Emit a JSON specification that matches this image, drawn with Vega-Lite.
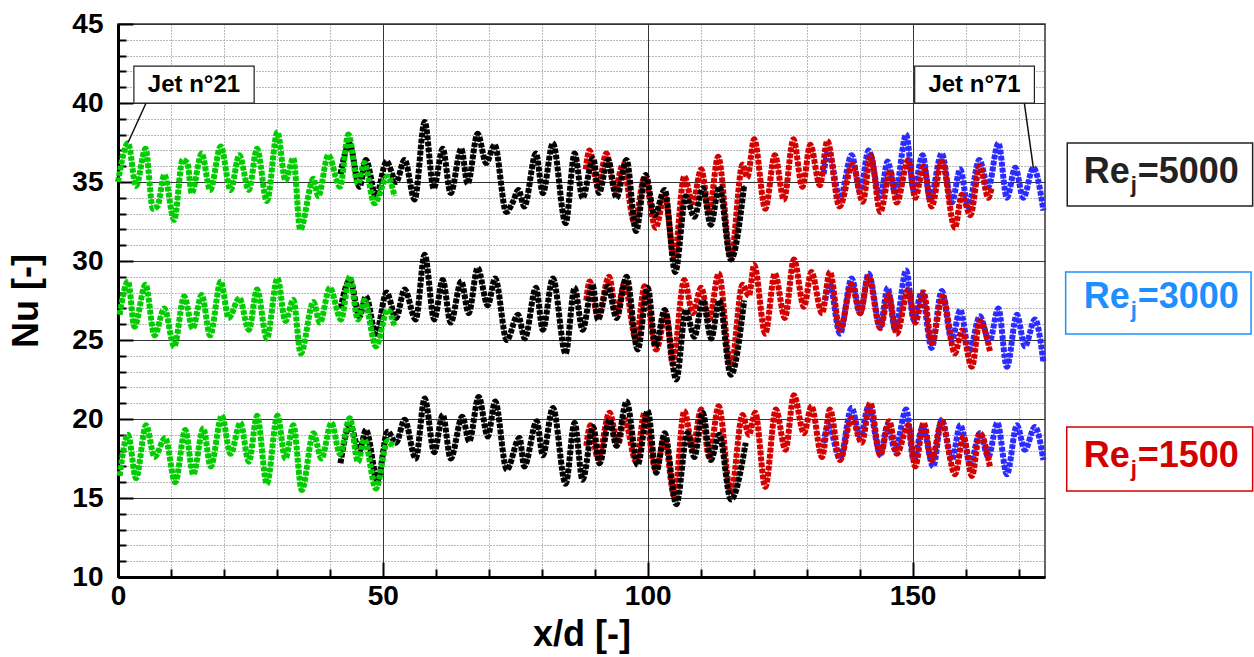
{
  "$schema": "https://vega.github.io/schema/vega-lite/v6.json",
  "width": 927,
  "height": 553,
  "autosize": {"type": "none"},
  "padding": {"left": 118, "top": 24, "right": 209, "bottom": 80},
  "background": "white",
  "config": {
    "font": "Liberation Sans",
    "view": {"stroke": "#333333", "strokeWidth": 1.5}
  },
  "datasets": {
    "curves": [
      {"s":"green","g":"5000","x":0,"y":35.0},{"s":"green","g":"5000","x":1.9,"y":37.45},{"s":"green","g":"5000","x":3.4,"y":34.75},{"s":"green","g":"5000","x":5.2,"y":37.1},{"s":"green","g":"5000","x":6.6,"y":33.3},{"s":"green","g":"5000","x":7.5,"y":33.5},{"s":"green","g":"5000","x":8.75,"y":35.45},{"s":"green","g":"5000","x":10.6,"y":32.6},{"s":"green","g":"5000","x":12.2,"y":36.4},{"s":"green","g":"5000","x":13.1,"y":36.2},{"s":"green","g":"5000","x":13.9,"y":34.3},{"s":"green","g":"5000","x":15.8,"y":36.8},{"s":"green","g":"5000","x":17.4,"y":34.5},{"s":"green","g":"5000","x":19.4,"y":37.25},{"s":"green","g":"5000","x":21.25,"y":34.5},{"s":"green","g":"5000","x":22.9,"y":36.7},{"s":"green","g":"5000","x":24.7,"y":34.5},{"s":"green","g":"5000","x":26.25,"y":37.1},{"s":"green","g":"5000","x":28.1,"y":33.8},{"s":"green","g":"5000","x":30.1,"y":38.15},{"s":"green","g":"5000","x":31.6,"y":35.1},{"s":"green","g":"5000","x":33.1,"y":36.5},{"s":"green","g":"5000","x":34.4,"y":32.0},{"s":"green","g":"5000","x":36.9,"y":35.2},{"s":"green","g":"5000","x":37.8,"y":34.1},{"s":"green","g":"5000","x":39.7,"y":36.7},{"s":"green","g":"5000","x":41.9,"y":34.7},{"s":"green","g":"5000","x":43.5,"y":38.0},{"s":"green","g":"5000","x":45.3,"y":34.9},{"s":"green","g":"5000","x":46.5,"y":36.2},{"s":"green","g":"5000","x":48.4,"y":33.65},{"s":"green","g":"5000","x":50.9,"y":35.35},{"s":"green","g":"5000","x":52.2,"y":34.1},
      {"s":"black","g":"5000","x":42.0,"y":35.5},{"s":"black","g":"5000","x":43.7,"y":37.4},{"s":"black","g":"5000","x":45.6,"y":34.7},{"s":"black","g":"5000","x":46.8,"y":36.4},{"s":"black","g":"5000","x":48.7,"y":34.1},{"s":"black","g":"5000","x":50.7,"y":36.3},{"s":"black","g":"5000","x":52.5,"y":35.0},{"s":"black","g":"5000","x":54.1,"y":36.4},{"s":"black","g":"5000","x":56.0,"y":33.9},{"s":"black","g":"5000","x":57.9,"y":38.8},{"s":"black","g":"5000","x":59.6,"y":34.6},{"s":"black","g":"5000","x":61.3,"y":37.1},{"s":"black","g":"5000","x":62.8,"y":34.3},{"s":"black","g":"5000","x":64.8,"y":37.1},{"s":"black","g":"5000","x":66.0,"y":34.9},{"s":"black","g":"5000","x":67.9,"y":38.05},{"s":"black","g":"5000","x":69.5,"y":36.2},{"s":"black","g":"5000","x":71.1,"y":37.35},{"s":"black","g":"5000","x":73.3,"y":33.1},{"s":"black","g":"5000","x":74.5,"y":33.7},{"s":"black","g":"5000","x":75.6,"y":34.5},{"s":"black","g":"5000","x":76.7,"y":33.45},{"s":"black","g":"5000","x":78.9,"y":36.8},{"s":"black","g":"5000","x":80.2,"y":34.3},{"s":"black","g":"5000","x":82.1,"y":37.45},{"s":"black","g":"5000","x":84.5,"y":32.4},{"s":"black","g":"5000","x":86.2,"y":36.8},{"s":"black","g":"5000","x":87.7,"y":34.0},{"s":"black","g":"5000","x":89.7,"y":36.5},{"s":"black","g":"5000","x":90.8,"y":34.3},{"s":"black","g":"5000","x":92.5,"y":36.4},{"s":"black","g":"5000","x":94.1,"y":34.0},{"s":"black","g":"5000","x":96.0,"y":36.4},{"s":"black","g":"5000","x":97.8,"y":31.9},{"s":"black","g":"5000","x":99.6,"y":35.45},{"s":"black","g":"5000","x":101.3,"y":32.9},{"s":"black","g":"5000","x":103.2,"y":34.5},{"s":"black","g":"5000","x":105.2,"y":29.3},{"s":"black","g":"5000","x":107.2,"y":34.1},{"s":"black","g":"5000","x":108.8,"y":32.8},{"s":"black","g":"5000","x":110.4,"y":34.6},{"s":"black","g":"5000","x":111.9,"y":32.3},{"s":"black","g":"5000","x":113.5,"y":34.7},{"s":"black","g":"5000","x":115.7,"y":30.1},{"s":"black","g":"5000","x":118.2,"y":34.8},
      {"s":"red","g":"5000","x":88.3,"y":35.8},{"s":"red","g":"5000","x":89.0,"y":37.0},{"s":"red","g":"5000","x":90.6,"y":34.7},{"s":"red","g":"5000","x":92.2,"y":36.8},{"s":"red","g":"5000","x":93.8,"y":34.5},{"s":"red","g":"5000","x":95.3,"y":36.1},{"s":"red","g":"5000","x":97.5,"y":32.4},{"s":"red","g":"5000","x":99.4,"y":35.3},{"s":"red","g":"5000","x":101.5,"y":32.1},{"s":"red","g":"5000","x":103.2,"y":34.1},{"s":"red","g":"5000","x":105.0,"y":30.3},{"s":"red","g":"5000","x":106.9,"y":35.35},{"s":"red","g":"5000","x":108.5,"y":33.7},{"s":"red","g":"5000","x":110.1,"y":35.8},{"s":"red","g":"5000","x":111.6,"y":33.2},{"s":"red","g":"5000","x":113.3,"y":36.6},{"s":"red","g":"5000","x":115.7,"y":30.3},{"s":"red","g":"5000","x":117.9,"y":36.1},{"s":"red","g":"5000","x":118.8,"y":35.3},{"s":"red","g":"5000","x":120.1,"y":37.7},{"s":"red","g":"5000","x":122.2,"y":33.3},{"s":"red","g":"5000","x":124.0,"y":36.7},{"s":"red","g":"5000","x":125.7,"y":33.9},{"s":"red","g":"5000","x":127.5,"y":37.7},{"s":"red","g":"5000","x":129.2,"y":34.7},{"s":"red","g":"5000","x":130.7,"y":37.35},{"s":"red","g":"5000","x":132.5,"y":34.8},{"s":"red","g":"5000","x":133.9,"y":37.6},{"s":"red","g":"5000","x":136.2,"y":33.45},{"s":"red","g":"5000","x":138.7,"y":36.1},{"s":"red","g":"5000","x":140.6,"y":33.75},{"s":"red","g":"5000","x":142.1,"y":36.7},{"s":"red","g":"5000","x":143.9,"y":33.1},{"s":"red","g":"5000","x":145.8,"y":35.7},{"s":"red","g":"5000","x":147.0,"y":33.7},{"s":"red","g":"5000","x":149.2,"y":36.4},{"s":"red","g":"5000","x":150.5,"y":34.0},{"s":"red","g":"5000","x":152.1,"y":36.0},{"s":"red","g":"5000","x":153.6,"y":33.45},{"s":"red","g":"5000","x":155.5,"y":36.3},{"s":"red","g":"5000","x":158.0,"y":32.1},{"s":"red","g":"5000","x":159.3,"y":34.2},{"s":"red","g":"5000","x":160.9,"y":32.9},{"s":"red","g":"5000","x":162.7,"y":36.0},{"s":"red","g":"5000","x":164.3,"y":34.0},{"s":"red","g":"5000","x":164.9,"y":34.6},
      {"s":"blue","g":"5000","x":133.2,"y":35.5},{"s":"blue","g":"5000","x":134.1,"y":36.9},{"s":"blue","g":"5000","x":136.3,"y":34.0},{"s":"blue","g":"5000","x":138.5,"y":36.7},{"s":"blue","g":"5000","x":140.1,"y":34.4},{"s":"blue","g":"5000","x":141.7,"y":37.0},{"s":"blue","g":"5000","x":143.9,"y":34.1},{"s":"blue","g":"5000","x":145.3,"y":36.3},{"s":"blue","g":"5000","x":146.7,"y":34.3},{"s":"blue","g":"5000","x":148.8,"y":38.0},{"s":"blue","g":"5000","x":150.2,"y":34.5},{"s":"blue","g":"5000","x":151.9,"y":36.7},{"s":"blue","g":"5000","x":153.3,"y":33.9},{"s":"blue","g":"5000","x":155.5,"y":36.8},{"s":"blue","g":"5000","x":157.4,"y":33.7},{"s":"blue","g":"5000","x":159.0,"y":35.8},{"s":"blue","g":"5000","x":160.5,"y":33.45},{"s":"blue","g":"5000","x":162.6,"y":36.4},{"s":"blue","g":"5000","x":164.3,"y":34.7},{"s":"blue","g":"5000","x":166.2,"y":37.45},{"s":"blue","g":"5000","x":167.8,"y":34.0},{"s":"blue","g":"5000","x":169.4,"y":35.9},{"s":"blue","g":"5000","x":170.9,"y":34.0},{"s":"blue","g":"5000","x":172.8,"y":35.9},{"s":"blue","g":"5000","x":174.7,"y":33.2},
      {"s":"green","g":"3000","x":0.3,"y":26.6},{"s":"green","g":"3000","x":1.9,"y":28.7},{"s":"green","g":"3000","x":3.1,"y":25.85},{"s":"green","g":"3000","x":5.2,"y":28.5},{"s":"green","g":"3000","x":6.9,"y":25.3},{"s":"green","g":"3000","x":8.75,"y":27.0},{"s":"green","g":"3000","x":10.6,"y":24.6},{"s":"green","g":"3000","x":12.5,"y":27.75},{"s":"green","g":"3000","x":14.1,"y":25.75},{"s":"green","g":"3000","x":15.8,"y":27.85},{"s":"green","g":"3000","x":17.4,"y":25.3},{"s":"green","g":"3000","x":19.4,"y":28.7},{"s":"green","g":"3000","x":20.9,"y":26.4},{"s":"green","g":"3000","x":22.9,"y":27.65},{"s":"green","g":"3000","x":24.7,"y":25.65},{"s":"green","g":"3000","x":26.25,"y":28.2},{"s":"green","g":"3000","x":28.1,"y":25.1},{"s":"green","g":"3000","x":30.1,"y":28.9},{"s":"green","g":"3000","x":31.6,"y":26.2},{"s":"green","g":"3000","x":33.1,"y":27.55},{"s":"green","g":"3000","x":34.5,"y":24.15},{"s":"green","g":"3000","x":36.9,"y":27.4},{"s":"green","g":"3000","x":38.1,"y":26.1},{"s":"green","g":"3000","x":40.0,"y":28.3},{"s":"green","g":"3000","x":42.1,"y":26.3},{"s":"green","g":"3000","x":43.75,"y":29.0},{"s":"green","g":"3000","x":45.3,"y":26.3},{"s":"green","g":"3000","x":46.5,"y":27.5},{"s":"green","g":"3000","x":48.7,"y":24.6},{"s":"green","g":"3000","x":50.9,"y":26.9},{"s":"green","g":"3000","x":52.2,"y":25.85},
      {"s":"black","g":"3000","x":42.0,"y":27.0},{"s":"black","g":"3000","x":43.8,"y":28.8},{"s":"black","g":"3000","x":45.6,"y":26.5},{"s":"black","g":"3000","x":46.8,"y":27.75},{"s":"black","g":"3000","x":48.7,"y":25.4},{"s":"black","g":"3000","x":50.7,"y":28.0},{"s":"black","g":"3000","x":52.5,"y":26.4},{"s":"black","g":"3000","x":54.1,"y":28.2},{"s":"black","g":"3000","x":56.2,"y":26.3},{"s":"black","g":"3000","x":57.9,"y":30.4},{"s":"black","g":"3000","x":59.7,"y":26.3},{"s":"black","g":"3000","x":61.3,"y":28.8},{"s":"black","g":"3000","x":62.8,"y":26.1},{"s":"black","g":"3000","x":64.8,"y":28.7},{"s":"black","g":"3000","x":66.2,"y":26.7},{"s":"black","g":"3000","x":67.9,"y":29.55},{"s":"black","g":"3000","x":69.8,"y":27.2},{"s":"black","g":"3000","x":71.2,"y":28.9},{"s":"black","g":"3000","x":73.4,"y":25.0},{"s":"black","g":"3000","x":75.5,"y":26.6},{"s":"black","g":"3000","x":76.8,"y":25.1},{"s":"black","g":"3000","x":78.9,"y":28.3},{"s":"black","g":"3000","x":80.2,"y":25.65},{"s":"black","g":"3000","x":82.1,"y":28.9},{"s":"black","g":"3000","x":84.5,"y":24.15},{"s":"black","g":"3000","x":86.2,"y":28.3},{"s":"black","g":"3000","x":87.7,"y":25.65},{"s":"black","g":"3000","x":89.6,"y":28.5},{"s":"black","g":"3000","x":90.6,"y":26.3},{"s":"black","g":"3000","x":92.5,"y":28.4},{"s":"black","g":"3000","x":94.1,"y":26.4},{"s":"black","g":"3000","x":96.0,"y":29.0},{"s":"black","g":"3000","x":98.1,"y":24.4},{"s":"black","g":"3000","x":100.0,"y":28.3},{"s":"black","g":"3000","x":101.5,"y":24.6},{"s":"black","g":"3000","x":103.2,"y":26.9},{"s":"black","g":"3000","x":105.4,"y":22.5},{"s":"black","g":"3000","x":107.2,"y":26.9},{"s":"black","g":"3000","x":108.8,"y":25.2},{"s":"black","g":"3000","x":110.4,"y":27.5},{"s":"black","g":"3000","x":112.0,"y":25.1},{"s":"black","g":"3000","x":113.5,"y":27.5},{"s":"black","g":"3000","x":115.7,"y":22.8},{"s":"black","g":"3000","x":118.2,"y":27.5},
      {"s":"red","g":"3000","x":88.4,"y":27.5},{"s":"red","g":"3000","x":89.05,"y":28.7},{"s":"red","g":"3000","x":90.6,"y":26.5},{"s":"red","g":"3000","x":92.7,"y":29.0},{"s":"red","g":"3000","x":94.1,"y":26.7},{"s":"red","g":"3000","x":95.6,"y":28.6},{"s":"red","g":"3000","x":97.8,"y":25.0},{"s":"red","g":"3000","x":99.4,"y":28.4},{"s":"red","g":"3000","x":101.6,"y":24.4},{"s":"red","g":"3000","x":103.5,"y":26.7},{"s":"red","g":"3000","x":104.7,"y":23.5},{"s":"red","g":"3000","x":106.9,"y":28.8},{"s":"red","g":"3000","x":108.5,"y":26.7},{"s":"red","g":"3000","x":110.1,"y":28.3},{"s":"red","g":"3000","x":111.6,"y":26.3},{"s":"red","g":"3000","x":113.4,"y":29.2},{"s":"red","g":"3000","x":115.7,"y":23.3},{"s":"red","g":"3000","x":117.9,"y":28.5},{"s":"red","g":"3000","x":119.1,"y":27.8},{"s":"red","g":"3000","x":120.1,"y":29.75},{"s":"red","g":"3000","x":122.2,"y":25.4},{"s":"red","g":"3000","x":124.0,"y":29.2},{"s":"red","g":"3000","x":125.9,"y":26.4},{"s":"red","g":"3000","x":127.6,"y":30.1},{"s":"red","g":"3000","x":129.5,"y":27.1},{"s":"red","g":"3000","x":130.9,"y":29.3},{"s":"red","g":"3000","x":132.9,"y":26.7},{"s":"red","g":"3000","x":134.4,"y":29.3},{"s":"red","g":"3000","x":136.3,"y":25.65},{"s":"red","g":"3000","x":138.5,"y":28.5},{"s":"red","g":"3000","x":140.1,"y":26.7},{"s":"red","g":"3000","x":141.7,"y":29.0},{"s":"red","g":"3000","x":143.9,"y":25.75},{"s":"red","g":"3000","x":145.5,"y":27.85},{"s":"red","g":"3000","x":147.0,"y":25.4},{"s":"red","g":"3000","x":149.2,"y":28.2},{"s":"red","g":"3000","x":150.5,"y":26.1},{"s":"red","g":"3000","x":152.1,"y":28.0},{"s":"red","g":"3000","x":153.6,"y":24.8},{"s":"red","g":"3000","x":155.7,"y":27.75},{"s":"red","g":"3000","x":158.0,"y":24.15},{"s":"red","g":"3000","x":159.3,"y":25.6},{"s":"red","g":"3000","x":161.2,"y":23.3},{"s":"red","g":"3000","x":162.7,"y":26.2},{"s":"red","g":"3000","x":164.6,"y":24.3},
      {"s":"blue","g":"3000","x":133.5,"y":27.5},{"s":"blue","g":"3000","x":134.3,"y":28.6},{"s":"blue","g":"3000","x":136.3,"y":25.4},{"s":"blue","g":"3000","x":138.5,"y":28.9},{"s":"blue","g":"3000","x":140.1,"y":26.7},{"s":"blue","g":"3000","x":141.7,"y":29.2},{"s":"blue","g":"3000","x":143.9,"y":25.85},{"s":"blue","g":"3000","x":145.3,"y":28.3},{"s":"blue","g":"3000","x":146.7,"y":25.65},{"s":"blue","g":"3000","x":148.8,"y":29.4},{"s":"blue","g":"3000","x":150.2,"y":26.3},{"s":"blue","g":"3000","x":151.7,"y":28.0},{"s":"blue","g":"3000","x":153.6,"y":24.5},{"s":"blue","g":"3000","x":155.5,"y":28.1},{"s":"blue","g":"3000","x":157.4,"y":25.0},{"s":"blue","g":"3000","x":159.0,"y":26.9},{"s":"blue","g":"3000","x":160.7,"y":24.3},{"s":"blue","g":"3000","x":162.7,"y":26.5},{"s":"blue","g":"3000","x":164.5,"y":24.9},{"s":"blue","g":"3000","x":166.2,"y":27.0},{"s":"blue","g":"3000","x":167.8,"y":23.3},{"s":"blue","g":"3000","x":169.7,"y":26.6},{"s":"blue","g":"3000","x":171.2,"y":24.6},{"s":"blue","g":"3000","x":173.1,"y":26.3},{"s":"blue","g":"3000","x":174.7,"y":23.6},
      {"s":"green","g":"1500","x":0.3,"y":16.4},{"s":"green","g":"1500","x":1.9,"y":19.0},{"s":"green","g":"1500","x":3.4,"y":16.25},{"s":"green","g":"1500","x":5.3,"y":19.6},{"s":"green","g":"1500","x":6.9,"y":17.6},{"s":"green","g":"1500","x":8.9,"y":18.8},{"s":"green","g":"1500","x":10.8,"y":16.0},{"s":"green","g":"1500","x":12.7,"y":19.3},{"s":"green","g":"1500","x":14.2,"y":16.5},{"s":"green","g":"1500","x":16.1,"y":19.4},{"s":"green","g":"1500","x":17.5,"y":17.0},{"s":"green","g":"1500","x":19.6,"y":20.2},{"s":"green","g":"1500","x":21.25,"y":17.8},{"s":"green","g":"1500","x":23.1,"y":19.75},{"s":"green","g":"1500","x":24.7,"y":17.3},{"s":"green","g":"1500","x":26.25,"y":20.2},{"s":"green","g":"1500","x":28.1,"y":15.9},{"s":"green","g":"1500","x":30.1,"y":20.2},{"s":"green","g":"1500","x":31.6,"y":17.5},{"s":"green","g":"1500","x":33.1,"y":19.6},{"s":"green","g":"1500","x":34.7,"y":15.5},{"s":"green","g":"1500","x":36.9,"y":19.1},{"s":"green","g":"1500","x":38.4,"y":17.5},{"s":"green","g":"1500","x":40.3,"y":19.75},{"s":"green","g":"1500","x":41.9,"y":17.8},{"s":"green","g":"1500","x":43.75,"y":20.05},{"s":"green","g":"1500","x":45.3,"y":17.3},{"s":"green","g":"1500","x":46.5,"y":18.7},{"s":"green","g":"1500","x":48.7,"y":15.6},{"s":"green","g":"1500","x":50.9,"y":18.6},{"s":"green","g":"1500","x":52.0,"y":18.2},
      {"s":"black","g":"1500","x":42.0,"y":17.2},{"s":"black","g":"1500","x":43.8,"y":19.6},{"s":"black","g":"1500","x":45.6,"y":18.0},{"s":"black","g":"1500","x":46.8,"y":19.3},{"s":"black","g":"1500","x":49.0,"y":16.15},{"s":"black","g":"1500","x":50.9,"y":19.2},{"s":"black","g":"1500","x":52.5,"y":18.5},{"s":"black","g":"1500","x":54.1,"y":19.95},{"s":"black","g":"1500","x":56.2,"y":17.5},{"s":"black","g":"1500","x":57.9,"y":21.3},{"s":"black","g":"1500","x":59.7,"y":17.9},{"s":"black","g":"1500","x":61.3,"y":20.25},{"s":"black","g":"1500","x":62.8,"y":17.5},{"s":"black","g":"1500","x":65.0,"y":20.15},{"s":"black","g":"1500","x":66.3,"y":18.6},{"s":"black","g":"1500","x":68.1,"y":21.4},{"s":"black","g":"1500","x":69.8,"y":18.9},{"s":"black","g":"1500","x":71.2,"y":21.1},{"s":"black","g":"1500","x":73.4,"y":16.8},{"s":"black","g":"1500","x":75.8,"y":18.8},{"s":"black","g":"1500","x":76.7,"y":17.0},{"s":"black","g":"1500","x":79.05,"y":19.85},{"s":"black","g":"1500","x":80.2,"y":17.7},{"s":"black","g":"1500","x":82.1,"y":20.7},{"s":"black","g":"1500","x":84.5,"y":15.9},{"s":"black","g":"1500","x":86.2,"y":19.75},{"s":"black","g":"1500","x":87.7,"y":16.15},{"s":"black","g":"1500","x":89.7,"y":19.5},{"s":"black","g":"1500","x":90.9,"y":17.2},{"s":"black","g":"1500","x":92.8,"y":19.95},{"s":"black","g":"1500","x":94.1,"y":18.3},{"s":"black","g":"1500","x":96.0,"y":21.1},{"s":"black","g":"1500","x":98.1,"y":17.1},{"s":"black","g":"1500","x":100.0,"y":20.5},{"s":"black","g":"1500","x":101.6,"y":16.6},{"s":"black","g":"1500","x":103.2,"y":19.1},{"s":"black","g":"1500","x":105.4,"y":14.6},{"s":"black","g":"1500","x":107.5,"y":19.1},{"s":"black","g":"1500","x":108.8,"y":17.6},{"s":"black","g":"1500","x":110.4,"y":20.4},{"s":"black","g":"1500","x":111.9,"y":17.4},{"s":"black","g":"1500","x":113.5,"y":19.0},{"s":"black","g":"1500","x":115.7,"y":14.9},{"s":"black","g":"1500","x":118.5,"y":18.5},
      {"s":"red","g":"1500","x":88.4,"y":18.3},{"s":"red","g":"1500","x":89.2,"y":19.6},{"s":"red","g":"1500","x":90.6,"y":17.5},{"s":"red","g":"1500","x":92.8,"y":20.4},{"s":"red","g":"1500","x":94.4,"y":18.4},{"s":"red","g":"1500","x":95.6,"y":20.0},{"s":"red","g":"1500","x":97.8,"y":17.3},{"s":"red","g":"1500","x":99.4,"y":20.4},{"s":"red","g":"1500","x":101.5,"y":16.8},{"s":"red","g":"1500","x":103.2,"y":18.7},{"s":"red","g":"1500","x":105.0,"y":15.1},{"s":"red","g":"1500","x":106.9,"y":20.5},{"s":"red","g":"1500","x":108.5,"y":18.25},{"s":"red","g":"1500","x":110.1,"y":20.6},{"s":"red","g":"1500","x":111.6,"y":17.6},{"s":"red","g":"1500","x":113.4,"y":20.8},{"s":"red","g":"1500","x":115.7,"y":15.3},{"s":"red","g":"1500","x":117.9,"y":20.25},{"s":"red","g":"1500","x":119.1,"y":19.0},{"s":"red","g":"1500","x":120.3,"y":20.4},{"s":"red","g":"1500","x":122.2,"y":15.7},{"s":"red","g":"1500","x":124.2,"y":20.6},{"s":"red","g":"1500","x":126.0,"y":18.05},{"s":"red","g":"1500","x":127.6,"y":21.5},{"s":"red","g":"1500","x":129.5,"y":19.1},{"s":"red","g":"1500","x":130.9,"y":20.8},{"s":"red","g":"1500","x":132.9,"y":17.6},{"s":"red","g":"1500","x":134.4,"y":20.6},{"s":"red","g":"1500","x":136.3,"y":17.4},{"s":"red","g":"1500","x":138.5,"y":20.05},{"s":"red","g":"1500","x":140.4,"y":18.5},{"s":"red","g":"1500","x":142.0,"y":21.0},{"s":"red","g":"1500","x":143.9,"y":17.7},{"s":"red","g":"1500","x":145.6,"y":19.85},{"s":"red","g":"1500","x":147.0,"y":17.8},{"s":"red","g":"1500","x":149.2,"y":19.6},{"s":"red","g":"1500","x":150.5,"y":17.0},{"s":"red","g":"1500","x":152.1,"y":19.75},{"s":"red","g":"1500","x":153.6,"y":17.4},{"s":"red","g":"1500","x":155.5,"y":19.85},{"s":"red","g":"1500","x":158.0,"y":16.5},{"s":"red","g":"1500","x":159.6,"y":18.9},{"s":"red","g":"1500","x":161.2,"y":16.4},{"s":"red","g":"1500","x":162.7,"y":19.1},{"s":"red","g":"1500","x":164.6,"y":17.0},
      {"s":"blue","g":"1500","x":133.2,"y":18.5},{"s":"blue","g":"1500","x":134.1,"y":19.6},{"s":"blue","g":"1500","x":136.3,"y":17.5},{"s":"blue","g":"1500","x":138.5,"y":20.7},{"s":"blue","g":"1500","x":140.1,"y":18.9},{"s":"blue","g":"1500","x":141.7,"y":20.8},{"s":"blue","g":"1500","x":143.9,"y":17.8},{"s":"blue","g":"1500","x":145.3,"y":19.6},{"s":"blue","g":"1500","x":146.7,"y":18.05},{"s":"blue","g":"1500","x":148.8,"y":20.6},{"s":"blue","g":"1500","x":150.2,"y":17.4},{"s":"blue","g":"1500","x":151.9,"y":19.5},{"s":"blue","g":"1500","x":153.9,"y":17.0},{"s":"blue","g":"1500","x":155.5,"y":19.95},{"s":"blue","g":"1500","x":157.4,"y":17.4},{"s":"blue","g":"1500","x":159.0,"y":19.6},{"s":"blue","g":"1500","x":160.9,"y":17.2},{"s":"blue","g":"1500","x":162.7,"y":19.1},{"s":"blue","g":"1500","x":164.3,"y":17.6},{"s":"blue","g":"1500","x":166.0,"y":19.75},{"s":"blue","g":"1500","x":167.8,"y":16.5},{"s":"blue","g":"1500","x":169.7,"y":19.6},{"s":"blue","g":"1500","x":171.2,"y":18.05},{"s":"blue","g":"1500","x":173.1,"y":19.5},{"s":"blue","g":"1500","x":174.7,"y":17.4}
    ],
    "legbox": [
      {"re":"5000","x":179.2,"x2":214.2,"y":33.48,"y2":37.47},
      {"re":"3000","x":178.9,"x2":213.9,"y":25.38,"y2":29.3},
      {"re":"1500","x":179.1,"x2":214.2,"y":15.44,"y2":19.49}
    ],
    "legtext": [
      {"re":"5000","eq":"=5000","x":191.0,"y":34.94},
      {"re":"3000","eq":"=3000","x":191.0,"y":27.03},
      {"re":"1500","eq":"=1500","x":191.0,"y":16.96}
    ],
    "jetbox": [
      {"lab":"Jet n°21","x":3.0,"x2":25.7,"y":40.0,"y2":42.34},
      {"lab":"Jet n°71","x":150.4,"x2":173.0,"y":40.0,"y2":42.34}
    ],
    "jetline": [
      {"x":5.3,"y":40.0,"x2":1.9,"y2":37.5},
      {"x":171.1,"y":40.0,"x2":172.8,"y2":35.9}
    ],
    "jettext": [
      {"lab":"Jet n°21","x":14.35,"y":41.17},
      {"lab":"Jet n°71","x":161.7,"y":41.17}
    ]
  },
  "encoding": {
    "x": {
      "field": "x", "type": "quantitative",
      "scale": {"domain": [0, 175], "nice": false, "zero": false},
      "axis": {
        "title": "x/d [-]",
        "values": [0,10,20,30,40,50,60,70,80,90,100,110,120,130,140,150,160,170],
        "grid": true,
        "gridColor": {"condition": {"test": "datum.value % 50 === 0", "value": "#333333"}, "value": "#777777"},
        "gridDash": {"condition": {"test": "datum.value % 50 === 0", "value": []}, "value": [1, 2]},
        "gridWidth": 1,
        "tickSize": {"condition": {"test": "datum.value % 50 === 0", "value": -15}, "value": -8},
        "tickWidth": 2,
        "tickColor": "#000000",
        "labelExpr": "datum.value % 50 === 0 ? datum.label : ''",
        "labelFontSize": 28, "labelFontWeight": "bold", "labelColor": "#000000",
        "labelPadding": 20, "labelFlush": false, "labelOverlap": false,
        "domainColor": "#000000", "domainWidth": 3,
        "titleFontSize": 36, "titleFontWeight": "bold", "titleColor": "#000000", "titlePadding": 0
      }
    },
    "y": {
      "field": "y", "type": "quantitative",
      "scale": {"domain": [10, 45], "nice": false, "zero": false},
      "axis": {
        "title": "Nu [-]",
        "values": [10,11,12,13,14,15,16,17,18,19,20,21,22,23,24,25,26,27,28,29,30,31,32,33,34,35,36,37,38,39,40,41,42,43,44,45],
        "grid": true,
        "gridColor": {"condition": {"test": "datum.value % 5 === 0", "value": "#333333"}, "value": "#777777"},
        "gridDash": {"condition": {"test": "datum.value % 5 === 0", "value": []}, "value": [1, 2]},
        "gridWidth": 1,
        "tickSize": {"condition": {"test": "datum.value % 5 === 0", "value": -15}, "value": -8},
        "tickWidth": 2,
        "tickColor": "#000000",
        "labelExpr": "datum.value % 5 === 0 ? datum.label : ''",
        "labelFontSize": 28, "labelFontWeight": "bold", "labelColor": "#000000",
        "labelPadding": 30, "labelFlush": false, "labelOverlap": false,
        "domainColor": "#000000", "domainWidth": 3,
        "titleFontSize": 36, "titleFontWeight": "bold", "titleColor": "#000000", "titlePadding": 26
      }
    }
  },
  "layer": [
    {
      "data": {"name": "curves"},
      "mark": {"type": "line", "interpolate": "monotone", "strokeWidth": 2, "opacity": 0.6},
      "encoding": {
        "stroke": {"field": "s", "type": "nominal", "legend": null,
          "scale": {"domain": ["green", "black", "red", "blue"], "range": ["#00cc00", "#000000", "#d40000", "#2b2bff"]}},
        "detail": {"field": "g", "type": "nominal"}
      }
    },
    {
      "data": {"name": "curves"},
      "transform": [{"filter": "datum.s === 'blue'"}],
      "mark": {"type": "line", "interpolate": "monotone", "strokeWidth": 6, "strokeDash": [4.5, 1.5], "color": "#2b2bff"},
      "encoding": {"detail": {"field": "g", "type": "nominal"}}
    },
    {
      "data": {"name": "curves"},
      "transform": [{"filter": "datum.s === 'red'"}],
      "mark": {"type": "line", "interpolate": "monotone", "strokeWidth": 6, "strokeDash": [4.5, 1.5], "color": "#d40000"},
      "encoding": {"detail": {"field": "g", "type": "nominal"}}
    },
    {
      "data": {"name": "curves"},
      "transform": [{"filter": "datum.s === 'black'"}],
      "mark": {"type": "line", "interpolate": "monotone", "strokeWidth": 6, "strokeDash": [4.5, 1.5], "color": "#000000"},
      "encoding": {"detail": {"field": "g", "type": "nominal"}}
    },
    {
      "data": {"name": "curves"},
      "transform": [{"filter": "datum.s === 'green'"}],
      "mark": {"type": "line", "interpolate": "monotone", "strokeWidth": 6, "strokeDash": [4.5, 1.5], "color": "#00cc00"},
      "encoding": {"detail": {"field": "g", "type": "nominal"}}
    },
    {
      "data": {"name": "legbox"},
      "mark": {"type": "rect", "filled": false, "strokeWidth": 1.5},
      "encoding": {
        "x2": {"field": "x2"}, "y2": {"field": "y2"},
        "color": {"field": "re", "type": "nominal", "legend": null,
          "scale": {"domain": ["5000", "3000", "1500"], "range": ["#222222", "#1e8fff", "#d40000"]}}
      }
    },
    {
      "data": {"name": "legtext"},
      "mark": {"type": "text", "text": "Re", "align": "right", "baseline": "alphabetic", "fontSize": 36, "fontWeight": "bold"},
      "encoding": {
        "color": {"field": "re", "type": "nominal", "legend": null,
          "scale": {"domain": ["5000", "3000", "1500"], "range": ["#222222", "#1e8fff", "#d40000"]}}
      }
    },
    {
      "data": {"name": "legtext"},
      "mark": {"type": "text", "text": "j", "align": "left", "baseline": "alphabetic", "fontSize": 22, "fontWeight": "bold", "dx": 1, "dy": 9},
      "encoding": {
        "color": {"field": "re", "type": "nominal", "legend": null,
          "scale": {"domain": ["5000", "3000", "1500"], "range": ["#222222", "#1e8fff", "#d40000"]}}
      }
    },
    {
      "data": {"name": "legtext"},
      "mark": {"type": "text", "align": "left", "baseline": "alphabetic", "fontSize": 36, "fontWeight": "bold", "dx": 8},
      "encoding": {
        "text": {"field": "eq"},
        "color": {"field": "re", "type": "nominal", "legend": null,
          "scale": {"domain": ["5000", "3000", "1500"], "range": ["#222222", "#1e8fff", "#d40000"]}}
      }
    },
    {
      "data": {"name": "jetbox"},
      "mark": {"type": "rect", "fill": "white", "stroke": "#222222", "strokeWidth": 1.2},
      "encoding": {"x2": {"field": "x2"}, "y2": {"field": "y2"}}
    },
    {
      "data": {"name": "jetline"},
      "mark": {"type": "rule", "color": "#111111", "strokeWidth": 1.5},
      "encoding": {"x2": {"field": "x2"}, "y2": {"field": "y2"}}
    },
    {
      "data": {"name": "jettext"},
      "mark": {"type": "text", "align": "center", "baseline": "middle", "fontSize": 24, "fontWeight": "bold", "color": "#000000"},
      "encoding": {"text": {"field": "lab"}}
    }
  ]
}
